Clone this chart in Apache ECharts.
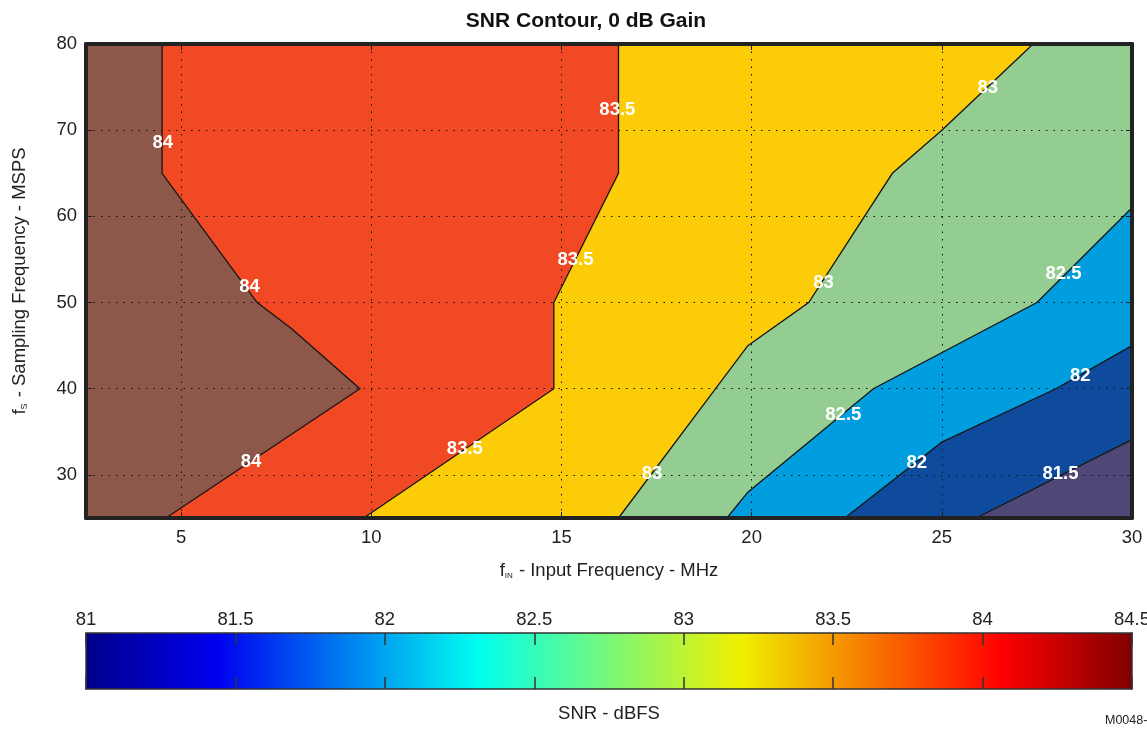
<!DOCTYPE html>
<html>
<head>
<meta charset="utf-8">
<script src="https://cdn.jsdelivr.net/npm/echarts@6/dist/echarts.min.js"></script>
<style>html,body{margin:0;padding:0;background:#fff}#chart{width:1147px;height:729px}</style>
</head>
<body>
<div id="chart"></div>
<script>
// ---- data ----
const xAxisRange = [2.5, 30];      // fIN (MHz)
const yAxisRange = [25, 80];       // fS (MSPS)
const colorbarRange = [81, 84.5];  // SNR dBFS
const levels = [81.5, 82, 82.5, 83, 83.5, 84];
// contour lines [fIN, fS]
const contour815 = [[30, 34.1], [25.9, 25]];
const contour82 = [[30, 45], [28, 40], [25, 33.8], [22.45, 25]];
const contour825 = [[30, 61], [27.5, 50], [23.2, 40], [19.9, 28], [19.35, 25]];
const contour83 = [[27.4, 80], [25, 70], [23.7, 65], [21.5, 50], [19.9, 45], [16.5, 25]];
const contour835 = [[16.5, 80], [16.5, 65], [14.8, 50], [14.8, 40], [9.8, 25]];
const contour84 = [[4.5, 80], [4.5, 65], [7.0, 50], [7.9, 47], [9.7, 40], [4.6, 25]];
// contour labels
const labelText = ['84', '84', '84', '83.5', '83.5', '83.5', '83', '83', '83', '82.5', '82.5', '82', '82', '81.5'];
const labelX = [4.52, 6.8, 6.84, 16.47, 15.37, 12.46, 26.21, 21.89, 17.38, 28.2, 22.41, 28.64, 24.34, 28.12];
const labelY = [68.5, 51.8, 31.5, 72.3, 55.0, 33.0, 74.9, 52.3, 30.1, 53.3, 36.95, 41.5, 31.45, 30.1];

// ---- styles ----
const contours = [contour815, contour82, contour825, contour83, contour835, contour84];
const baseColor = '#4F4877';
const fillColors = ['#0F4B9D', '#009EDF', '#93CD92', '#FDCC08', '#F04923', '#8D5749'];
const jetStops = [
  { offset: 0, color: '#00008A' },
  { offset: 0.125, color: '#0000F0' },
  { offset: 0.375, color: '#00FFF0' },
  { offset: 0.625, color: '#F0F000' },
  { offset: 0.875, color: '#FF0000' },
  { offset: 1, color: '#800000' }
];
const FONT = '"Liberation Sans", Arial, Helvetica, sans-serif';
const FS = 18.5;
const TXT = '#222';

const chart = echarts.init(document.getElementById('chart'), null, { renderer: 'canvas' });

function contourRender(params, api) {
  const i = params.dataIndex;
  const pts = contours[i];
  const poly = pts.slice();
  poly.push([xAxisRange[0], yAxisRange[0]]);
  poly.push([xAxisRange[0], yAxisRange[1]]);
  if (pts[0][0] >= xAxisRange[1]) poly.push([xAxisRange[1], yAxisRange[1]]);
  return {
    type: 'group',
    children: [
      { type: 'polygon', z2: i, shape: { points: poly.map(p => api.coord(p)) }, style: { fill: fillColors[i] } },
      { type: 'polyline', z2: 50, shape: { points: pts.map(p => api.coord(p)) }, style: { stroke: '#151515', lineWidth: 1.3, fill: null } }
    ]
  };
}

function labelRender(params, api) {
  const p = api.coord([api.value(0), api.value(1)]);
  return {
    type: 'text', x: p[0], y: p[1], z2: 100,
    style: { text: labelText[params.dataIndex], fill: '#ffffff', font: 'bold ' + FS + 'px ' + FONT, textAlign: 'center', textVerticalAlign: 'middle', opacity: 1 }
  };
}

function colorbarRender(params, api) {
  const p0 = api.coord([api.value(0), 0]);
  const p1 = api.coord([api.value(1), 1]);
  return {
    type: 'rect',
    shape: { x: p0[0], y: p1[1], width: p1[0] - p0[0], height: p0[1] - p1[1] },
    style: { fill: { type: 'linear', x: 0, y: 0, x2: 1, y2: 0, colorStops: jetStops } }
  };
}

const mainAxisCommon = {
  type: 'value', gridIndex: 0, z: 5,
  axisLine: { show: true, onZero: false, lineStyle: { color: '#222', width: 4 } },
  axisTick: { show: true, inside: true, length: 6, lineStyle: { color: '#222', width: 1 } },
};

const option = {
  animation: false,
  backgroundColor: '#fff',
  textStyle: { fontFamily: FONT },
  grid: [
    { left: 86, right: 15, top: 44, height: 474, show: true, backgroundColor: baseColor, borderWidth: 0, outerBoundsMode: 'none', containLabel: false },
    { left: 86, right: 15, top: 633, height: 56, show: false, outerBoundsMode: 'none', containLabel: false }
  ],
  xAxis: [
    Object.assign({}, mainAxisCommon, {
      position: 'bottom', min: xAxisRange[0], max: xAxisRange[1], splitNumber: 5,
      axisLabel: { show: true, fontSize: FS, color: TXT, fontFamily: FONT, margin: 10, showMinLabel: false,
        formatter: v => (v % 5 === 0 ? String(v) : '') },
      splitLine: { show: true, lineStyle: { color: '#111', width: 1, type: [1.5, 6] } },
      name: '{a|f}{s|IN}{a| - Input Frequency - MHz}', nameLocation: 'middle', nameGap: 43,
      nameTextStyle: { rich: {
        a: { fontSize: FS, color: TXT, fontFamily: FONT },
        s: { fontSize: 8, color: TXT, fontFamily: FONT, padding: [10, 1, 0, 0] } } }
    }),
    Object.assign({}, mainAxisCommon, {
      position: 'top', min: xAxisRange[0], max: xAxisRange[1], splitNumber: 5,
      axisLabel: { show: false }, splitLine: { show: false }
    }),
    {
      type: 'value', gridIndex: 1, position: 'top', min: colorbarRange[0], max: colorbarRange[1], interval: 0.5, z: 5,
      axisLine: { show: true, onZero: false, lineStyle: { color: '#333', width: 1.5 } },
      axisTick: { show: true, inside: true, length: 12, lineStyle: { color: '#333', width: 1.5 } },
      axisLabel: { show: true, fontSize: FS, color: TXT, fontFamily: FONT, margin: 4 },
      splitLine: { show: false }
    },
    {
      type: 'value', gridIndex: 1, position: 'bottom', min: colorbarRange[0], max: colorbarRange[1], interval: 0.5, z: 5,
      axisLine: { show: true, onZero: false, lineStyle: { color: '#333', width: 1.5 } },
      axisTick: { show: true, inside: true, length: 12, lineStyle: { color: '#333', width: 1.5 } },
      axisLabel: { show: false }, splitLine: { show: false },
      name: 'SNR - dBFS', nameLocation: 'middle', nameGap: 15,
      nameTextStyle: { fontSize: FS, color: TXT, fontFamily: FONT, verticalAlign: 'top' }
    }
  ],
  yAxis: [
    Object.assign({}, mainAxisCommon, {
      position: 'left', min: yAxisRange[0], max: yAxisRange[1], splitNumber: 5,
      axisLabel: { show: true, fontSize: FS, color: TXT, fontFamily: FONT, margin: 9, showMinLabel: false,
        formatter: v => (v % 10 === 0 ? String(v) : '') },
      splitLine: { show: true, lineStyle: { color: '#111', width: 1, type: [1.5, 6] } },
      name: '{a|f}{s|S}{a| - Sampling Frequency - MSPS}', nameLocation: 'middle', nameGap: 57, nameRotate: 90,
      nameTextStyle: { rich: {
        a: { fontSize: FS, color: TXT, fontFamily: FONT },
        s: { fontSize: 9, color: TXT, fontFamily: FONT, padding: [10, 1, 0, 0] } } }
    }),
    Object.assign({}, mainAxisCommon, {
      position: 'right', min: yAxisRange[0], max: yAxisRange[1], splitNumber: 5,
      axisLabel: { show: false }, splitLine: { show: false }
    }),
    {
      type: 'value', gridIndex: 1, position: 'left', min: 0, max: 1, z: 5,
      axisLine: { show: true, onZero: false, lineStyle: { color: '#333', width: 1.5 } },
      axisTick: { show: false }, axisLabel: { show: false }, splitLine: { show: false }
    },
    {
      type: 'value', gridIndex: 1, position: 'right', min: 0, max: 1, z: 5,
      axisLine: { show: true, onZero: false, lineStyle: { color: '#333', width: 1.5 } },
      axisTick: { show: false }, axisLabel: { show: false }, splitLine: { show: false }
    }
  ],
  graphic: [
    { type: 'text', x: 586, y: 21, style: { text: 'SNR Contour, 0 dB Gain', font: 'bold 21px ' + FONT, fill: '#111', textAlign: 'center', textVerticalAlign: 'middle' } },
    { type: 'text', x: 1105, y: 721, style: { text: 'M0048-', font: '12.5px ' + FONT, fill: TXT, textAlign: 'left', textVerticalAlign: 'middle' } }
  ],
  series: [
    {
      type: 'custom', xAxisIndex: 0, yAxisIndex: 0, z: 2,
      renderItem: contourRender,
      data: levels.map((lv, i) => [i, lv]),
      silent: true
    },
    {
      type: 'custom', xAxisIndex: 0, yAxisIndex: 0, z: 10,
      renderItem: labelRender,
      data: labelX.map((x, i) => [x, labelY[i]]),
      silent: true
    },
    {
      type: 'custom', xAxisIndex: 2, yAxisIndex: 2, z: 2,
      renderItem: colorbarRender,
      data: [[colorbarRange[0], colorbarRange[1]]],
      silent: true
    }
  ]
};
chart.setOption(option);
</script>
</body>
</html>
